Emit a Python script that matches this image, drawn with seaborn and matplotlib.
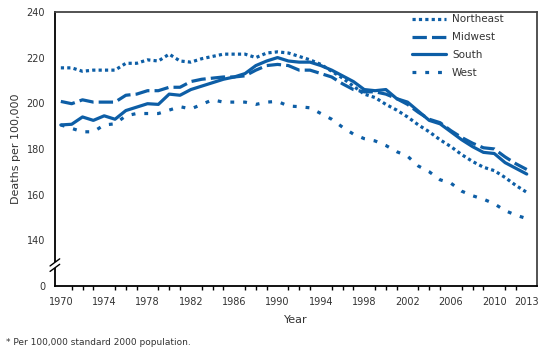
import matplotlib
matplotlib.use("Agg")
import pandas as pd
import matplotlib.pyplot as plt
import seaborn as sns
from matplotlib.ticker import MultipleLocator

# Data (deaths per 100,000)
years = list(range(1970, 2014))

northeast = [215.5, 215.5, 214, 214.5, 214.5, 214.5, 217.5, 217.5, 219, 218.5,
             221.5, 218.5, 218, 219.5, 220.5, 221.5, 221.5, 221.5, 220, 222,
             222.5, 222, 220.5, 219, 217, 214, 211, 207.5, 204, 202.5,
             199.5, 197, 194, 190.5, 187.5, 184, 181, 177.5, 174.5, 172,
             170.5, 167.5, 164, 161]
midwest = [200.8, 199.8, 201.5, 200.5, 200.5, 200.5, 203.5, 204, 205.5, 205.5,
           207, 207, 209.5, 210.5, 211, 211.5, 211.5, 212, 214.5, 216.5,
           217, 216.5, 214.5, 214.5, 213, 211.5, 208.5, 206, 205, 205,
           204, 202, 199.5, 196, 193, 191.5, 188, 185, 182.5, 180.5,
           180, 176.5, 173.5, 171]
south = [190.5, 190.8, 194, 192.5, 194.5, 193, 196.8, 198.3, 199.8, 199.5,
         204, 203.5, 206, 207.5, 209, 210.5, 211.5, 213, 216.5, 218.5,
         220, 218.5, 218, 218, 216.5, 214.5, 212, 209.5, 206, 205.5,
         206, 202, 200.5, 196.5, 192.5, 191, 187.5, 184, 181, 178.5,
         178, 174, 171.5, 169]
west = [190.5, 189, 187.5, 187.5, 190.5, 191, 194.5, 195.5, 195.5, 195.5,
        197, 198.5, 197.5, 199.5, 201.5, 200.5, 200.5, 200.5, 199.5, 200.5,
        200.8, 198.8, 198.5, 198, 195.5, 193, 189.5, 186.5, 184.5, 183.5,
        181.5, 178.8, 176.8, 172.5, 170, 166.5, 165, 161.5, 159.5, 158,
        156, 153, 151, 149.5]

regions = ["Northeast", "Midwest", "South", "West"]
y_ticks = [120, 140, 160, 180, 200, 220, 240]
y_labels = ["0", "140", "160", "180", "200", "220", "240"]
x_ticks = [1970, 1974, 1978, 1982, 1986, 1990, 1994, 1998, 2002, 2006, 2010, 2013]

df = pd.DataFrame({
    "Year": years * 4,
    "Rate": northeast + midwest + south + west,
    "Region": [r for r in regions for _ in years],
})

blue = "#0d5ea6"
dashes = {"Northeast": (1, 1), "Midwest": (4.5, 1.6), "South": "", "West": (1.2, 2.8)}

sns.set_style("white")
plt.rcParams["font.family"] = ["DejaVu Sans"]

fig = plt.figure(figsize=(5.6, 3.5), dpi=100)
ax = fig.add_axes([0.098, 0.183, 0.861, 0.783])

sns.lineplot(data=df, x="Year", y="Rate", hue="Region", style="Region",
             palette=[blue] * 4, dashes=dashes, linewidth=2.3, ax=ax,
             hue_order=regions, style_order=regions)

ax.set_xlim(1969.45, 2013.95)
ax.set_ylim(120, 240)
ax.set_yticks(y_ticks)
ax.set_yticklabels(y_labels)
ax.set_xticks(x_ticks)
ax.xaxis.set_minor_locator(MultipleLocator(1))
ax.tick_params(axis="both", which="major", direction="out", length=5, width=1,
               labelsize=7, colors="black", labelcolor="#333333")
ax.tick_params(axis="x", which="minor", direction="out", length=3, width=1,
               colors="black", bottom=True)
ax.tick_params(axis="x", pad=3)
ax.tick_params(axis="y", pad=2)

ax.set_xlabel("Year", fontsize=8, color="#333333", labelpad=6)
ax.set_ylabel("Deaths per 100,000", fontsize=8, color="#333333", labelpad=4)

for side in ["left", "bottom"]:
    ax.spines[side].set_color("black")
    ax.spines[side].set_linewidth(1.3)
for side in ["top", "right"]:
    ax.spines[side].set_color("#444444")
    ax.spines[side].set_linewidth(1.3)

# axis break on the y axis
trans = ax.transAxes
ax.add_patch(plt.Rectangle((-0.01, 0.066), 0.02, 0.02, transform=trans,
                           facecolor="white", edgecolor="none", clip_on=False, zorder=5))
for yb in (0.066, 0.086):
    ax.plot([-0.01, 0.01], [yb - 0.013, yb + 0.013], transform=trans,
            color="black", lw=1, clip_on=False, zorder=6)

handles, labels = ax.get_legend_handles_labels()
ax.legend(handles, labels, loc="upper right", bbox_to_anchor=(0.95, 1.025),
          frameon=False, fontsize=7.5, handlelength=3.2, handletextpad=0.6,
          labelspacing=0.75, labelcolor="#333333")

fig.text(0.01, 0.015, "* Per 100,000 standard 2000 population.", fontsize=6.5,
         color="#333333")

fig.savefig("out.png", dpi=100)
